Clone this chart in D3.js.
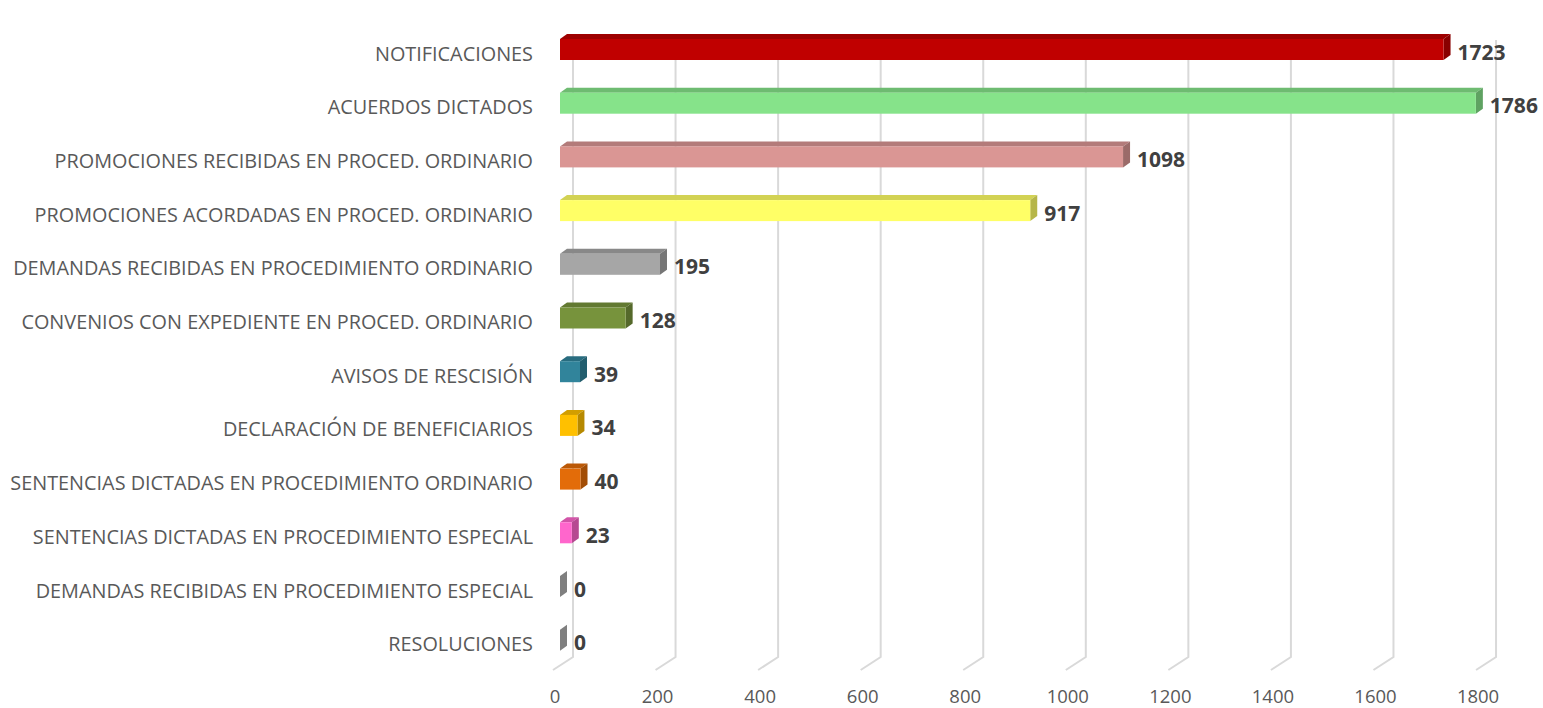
<!DOCTYPE html>
<html><head><meta charset="utf-8">
<script src="https://cdn.jsdelivr.net/npm/d3@7"></script>
<style>body{margin:0;background:#fff}svg{display:block}</style>
</head><body>
<svg id="chart" width="1543" height="708"></svg>
<script>
const categories = [
  "NOTIFICACIONES",
  "ACUERDOS DICTADOS",
  "PROMOCIONES RECIBIDAS EN PROCED. ORDINARIO",
  "PROMOCIONES ACORDADAS EN PROCED. ORDINARIO",
  "DEMANDAS RECIBIDAS EN PROCEDIMIENTO ORDINARIO",
  "CONVENIOS CON EXPEDIENTE EN PROCED. ORDINARIO",
  "AVISOS DE RESCISIÓN",
  "DECLARACIÓN DE BENEFICIARIOS",
  "SENTENCIAS DICTADAS EN PROCEDIMIENTO ORDINARIO",
  "SENTENCIAS DICTADAS EN PROCEDIMIENTO ESPECIAL",
  "DEMANDAS RECIBIDAS EN PROCEDIMIENTO ESPECIAL",
  "RESOLUCIONES"
];
const values = [1723, 1786, 1098, 917, 195, 128, 39, 34, 40, 23, 0, 0];
const colors = ["#C00000","#86E38A","#DA9694","#FFFF66","#A6A6A6","#77933C","#31849B","#FFC000","#E36C09","#FF66CC","#7F7F7F","#7F7F7F"];
const ticks = [0, 200, 400, 600, 800, 1000, 1200, 1400, 1600, 1800];

const svg = d3.select("#chart");
const x = d3.scaleLinear().domain([0, 1800]).range([560, 560 + 1800 * 0.5128]);
const step = 53.7;
const y = d3.scaleBand().domain(categories)
  .range([49.5 - step / 2, 49.5 - step / 2 + step * categories.length])
  .paddingInner(1 - 21 / step).paddingOuter((1 - 21 / step) / 2);

const wallDx = 13;
const barDx = 7, barDy = -5;
const wallTop = 40, wallBottom = 657;

// gridlines
const g = svg.append("g");
ticks.forEach(t => {
  const bx = x(t) + wallDx;
  g.append("path")
    .attr("d", `M${bx},${wallTop}L${bx},${wallBottom}L${bx - 20},${wallBottom + 13}`)
    .attr("fill", "none").attr("stroke", "#D9D9D9").attr("stroke-width", 2);
  g.append("text").attr("x", bx - 18).attr("y", 703)
    .attr("text-anchor", "middle").attr("font-family", "Open Sans")
    .attr("font-size", 18.5).attr("fill", "#595959").text(t);
});

// bars
const bars = svg.append("g");
categories.forEach((c, i) => {
  const v = values[i];
  const x0 = x(0), x1 = x(v);
  const yt = y(c), h = y.bandwidth(), yb = yt + h;
  const col = d3.color(colors[i]);
  const top = col.darker(0.55), side = col.darker(0.95);
  if (v > 0) {
    bars.append("path")
      .attr("d", `M${x0},${yt}L${x0 + barDx},${yt + barDy}L${x1 + barDx},${yt + barDy}L${x1},${yt}Z`)
      .attr("fill", top);
    bars.append("path")
      .attr("d", `M${x1},${yt}L${x1 + barDx},${yt + barDy}L${x1 + barDx},${yb + barDy}L${x1},${yb}Z`)
      .attr("fill", side);
    bars.append("rect").attr("x", x0).attr("y", yt).attr("width", x1 - x0).attr("height", h)
      .attr("fill", colors[i]);
  } else {
    bars.append("path")
      .attr("d", `M${x0},${yt}L${x0 + barDx},${yt + barDy}L${x0 + barDx},${yb + barDy}L${x0},${yb}Z`)
      .attr("fill", colors[i]);
  }
  bars.append("text").attr("x", x1 + barDx + 7).attr("y", yt + h / 2 + 10)
    .attr("font-family", "Open Sans").attr("font-weight", "bold")
    .attr("font-size", 21).attr("fill", "#404040").text(v);
});

// category labels
const labels = svg.append("g");
const lab = labels.selectAll("text").data(categories).join("text")
  .attr("x", 533).attr("y", d => y(d) + y.bandwidth() / 2 + 11)
  .attr("text-anchor", "end").attr("font-family", "Open Sans")
  .attr("font-size", 16).attr("fill", "#595959").text(d => d);
let maxW = 0;
lab.each(function(){ maxW = Math.max(maxW, this.getComputedTextLength()); });
const fs = 16 * 523 / maxW;
lab.attr("font-size", fs);
</script>
</body></html>
